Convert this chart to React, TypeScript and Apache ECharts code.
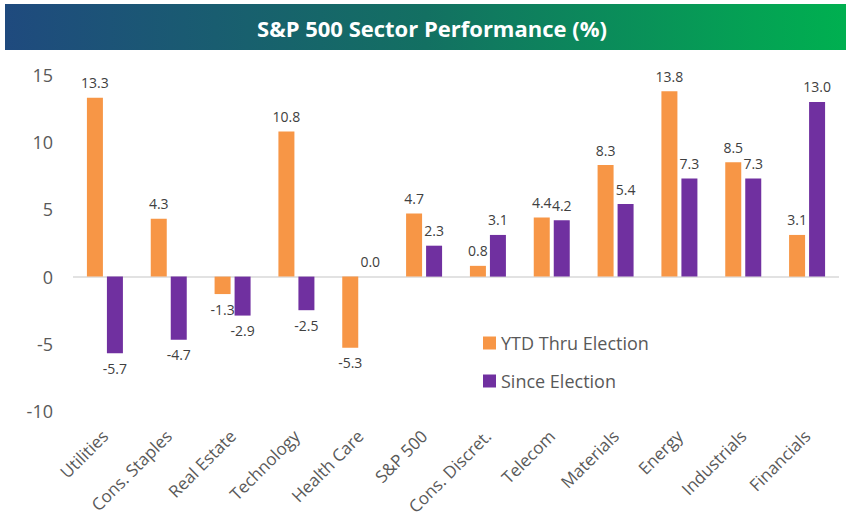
import React, { useEffect, useRef } from "react";
import * as echarts from "echarts";

const categories = [
  "Utilities", "Cons. Staples", "Real Estate", "Technology", "Health Care", "S&P 500",
  "Cons. Discret.", "Telecom", "Materials", "Energy", "Industrials", "Financials",
];
const ytdThruElection = [13.3, 4.3, -1.3, 10.8, -5.3, 4.7, 0.8, 4.4, 8.3, 13.8, 8.5, 3.1];
const sinceElection = [-5.7, -4.7, -2.9, -2.5, 0.0, 2.3, 3.1, 4.2, 5.4, 7.3, 7.3, 13.0];
const seriesNames = ["YTD Thru Election", "Since Election"];
const titleText = "S&P 500 Sector Performance (%)";

const FONT = "'Open Sans', sans-serif";

function withLabels(values: number[]) {
  return values.map((v) => ({
    value: v,
    label: { position: v < 0 ? "bottom" : "top" },
  }));
}

export default function App() {
  const ref = useRef<HTMLDivElement>(null);
  useEffect(() => {
    if (!ref.current) return;
    const chart = echarts.init(ref.current, null, { renderer: "svg" });
    const labelStyle = {
      show: true,
      formatter: (p: any) => Number(p.value).toFixed(1),
      color: "#404040",
      fontSize: 14,
      fontFamily: FONT,
      distance: 8,
    };
    chart.setOption({
      animation: false,
      backgroundColor: "#ffffff",
      graphic: [
        {
          type: "rect",
          shape: { x: 5, y: 4, width: 841, height: 46 },
          style: {
            fill: new echarts.graphic.LinearGradient(0, 0, 1, 0, [
              { offset: 0, color: "#1f4a7e" },
              { offset: 0.5, color: "#137062" },
              { offset: 1, color: "#00b050" },
            ]),
          },
          z: 0,
        },
        {
          type: "text",
          x: 432,
          y: 28,
          style: {
            text: titleText,
            fill: "#ffffff",
            fontSize: 22,
            fontWeight: "bold",
            fontFamily: FONT,
            align: "center",
            verticalAlign: "middle",
          },
          z: 1,
        },
      ],
      legend: {
        orient: "vertical",
        left: 478,
        top: 329,
        itemWidth: 13,
        itemHeight: 13,
        itemGap: 20,
        icon: "rect",
        textStyle: { color: "#595959", fontSize: 18, fontFamily: FONT },
        data: seriesNames,
      },
      grid: { left: 73, right: 7, top: 75, bottom: 522 - 411 },
      xAxis: {
        type: "category",
        data: categories,
        axisLine: { show: false, onZero: false },
        axisTick: { show: false },
        axisLabel: {
          rotate: 45,
          interval: 0,
          color: "#595959",
          fontSize: 17,
          fontFamily: FONT,
          margin: 22,
        },
      },
      yAxis: {
        type: "value",
        min: -10,
        max: 15,
        interval: 5,
        splitLine: { show: false },
        axisLine: { show: false },
        axisTick: { show: false },
        axisLabel: { color: "#595959", fontSize: 18, fontFamily: FONT, margin: 20 },
      },
      series: [
        {
          name: seriesNames[0],
          type: "bar",
          data: withLabels(ytdThruElection),
          itemStyle: { color: "#f79646" },
          barWidth: 16,
          barGap: "25%",
          label: labelStyle,
          markLine: {
            silent: true,
            symbol: "none",
            label: { show: false },
            lineStyle: { color: "#d9d9d9", width: 1.5, type: "solid" },
            data: [{ yAxis: 0 }],
            z: 1,
          },
        },
        {
          name: seriesNames[1],
          type: "bar",
          data: withLabels(sinceElection),
          itemStyle: { color: "#7030a0" },
          barWidth: 16,
          barGap: "25%",
          label: labelStyle,
        },
      ],
    });
    return () => chart.dispose();
  }, []);
  return <div ref={ref} style={{ width: 846, height: 522, position: "absolute", left: 0, top: 0 }} />;
}
